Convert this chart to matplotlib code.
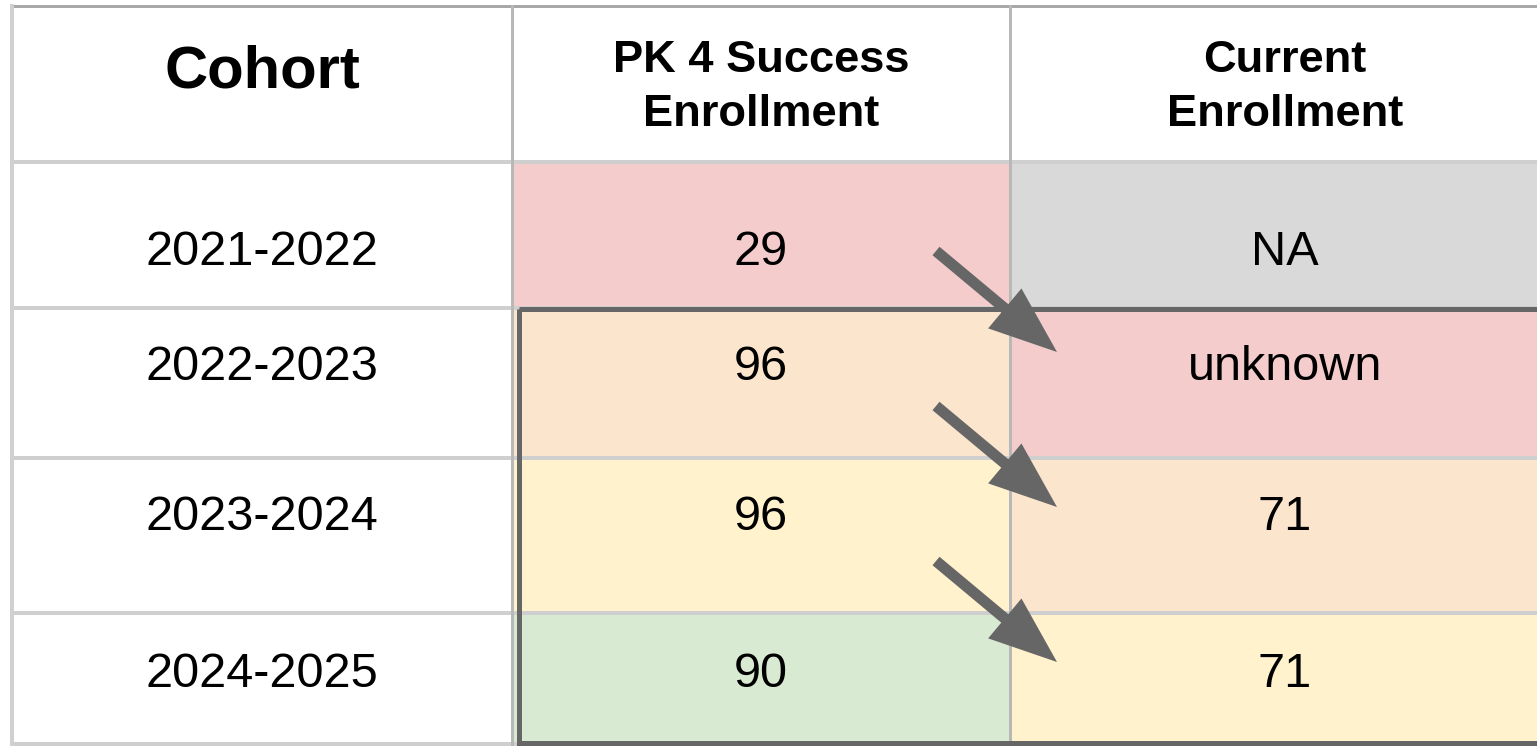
import matplotlib as mpl
mpl.use('Agg')
import matplotlib.pyplot as plt
from matplotlib.patches import Rectangle

# table content
headers = ['Cohort', 'PK 4 Success\nEnrollment', 'Current\nEnrollment']
cohorts = ['2021-2022', '2022-2023', '2023-2024', '2024-2025']
pk4_enrollment = ['29', '96', '96', '90']
current_enrollment = ['NA', 'unknown', '71', '71']

# cell fills (google sheets palette)
pk4_colors = ['#f4cccc', '#fce5cd', '#fff2cc', '#d9ead3']
current_colors = ['#d9d9d9', '#f4cccc', '#fce5cd', '#fff2cc']

# layout in pixels
W, H = 1537, 746
col_edges = [12, 512, 1010, 1560]
row_edges = [6, 162, 308, 458, 613, 744]
body_baseline = [265, 380, 530, 687]

plt.rcParams['font.family'] = ['Liberation Sans', 'DejaVu Sans']

fig = plt.figure(figsize=(W / 100, H / 100), dpi=100)
ax = fig.add_axes([0, 0, 1, 1])
ax.set_xlim(0, W)
ax.set_ylim(H, 0)
ax.axis('off')

#
# cell backgrounds
#
for i in range(len(cohorts)):
    top = row_edges[i + 1]
    h = row_edges[i + 2] - top
    ax.add_patch(Rectangle((col_edges[1], top), col_edges[2] - col_edges[1], h,
                           facecolor=pk4_colors[i], edgecolor='none', zorder=1))
    ax.add_patch(Rectangle((col_edges[2], top), col_edges[3] - col_edges[2], h,
                           facecolor=current_colors[i], edgecolor='none', zorder=1))

#
# grid lines
#
lw = 0.72  # one pixel in points
ax.plot([col_edges[0], W], [row_edges[0], row_edges[0]], color='#a8a8a8', lw=3 * lw, zorder=2)
for y in row_edges[1:]:
    ax.plot([col_edges[0], W], [y, y], color='#cfcfcf', lw=4 * lw, zorder=2)
ax.plot([col_edges[0], col_edges[0]], [row_edges[0], H], color='#d0d0d0', lw=4 * lw, zorder=2)
for x in col_edges[1:3]:
    ax.plot([x, x], [row_edges[0], H], color='#b8b8b8', lw=3 * lw, zorder=2)

# dark selection box
ax.add_patch(Rectangle((519, 309), 1100, 434, facecolor='none',
                       edgecolor='#666666', lw=5 * lw, zorder=3))

#
# header text
#
col_centers = [(col_edges[j] + col_edges[j + 1]) / 2 for j in range(3)]
col_centers[2] = 1285
for j, label in enumerate(headers):
    lines = label.split('\n')
    if len(lines) == 1:
        ax.text(col_centers[j], 88, lines[0], ha='center', va='baseline',
                fontsize=43, fontweight='bold', color='black', zorder=4)
    else:
        for k, line in enumerate(lines):
            ax.text(col_centers[j], 72 + 54 * k, line, ha='center', va='baseline',
                    fontsize=32.6, fontweight='bold', color='black', zorder=4)

#
# body text
#
for i in range(len(cohorts)):
    for j, val in enumerate([cohorts[i], pk4_enrollment[i], current_enrollment[i]]):
        ax.text(col_centers[j], body_baseline[i], val, ha='center', va='baseline',
                fontsize=35, color='black', zorder=4)

#
# arrows between the columns
#
for i in range(3):
    y0 = 251 + 155 * i
    ax.arrow(936, y0, 121, 101, width=11, head_width=52, head_length=68,
             length_includes_head=True, color='#666666', lw=0, zorder=5)

fig.savefig('out.png', dpi=100)
plt.close(fig)
